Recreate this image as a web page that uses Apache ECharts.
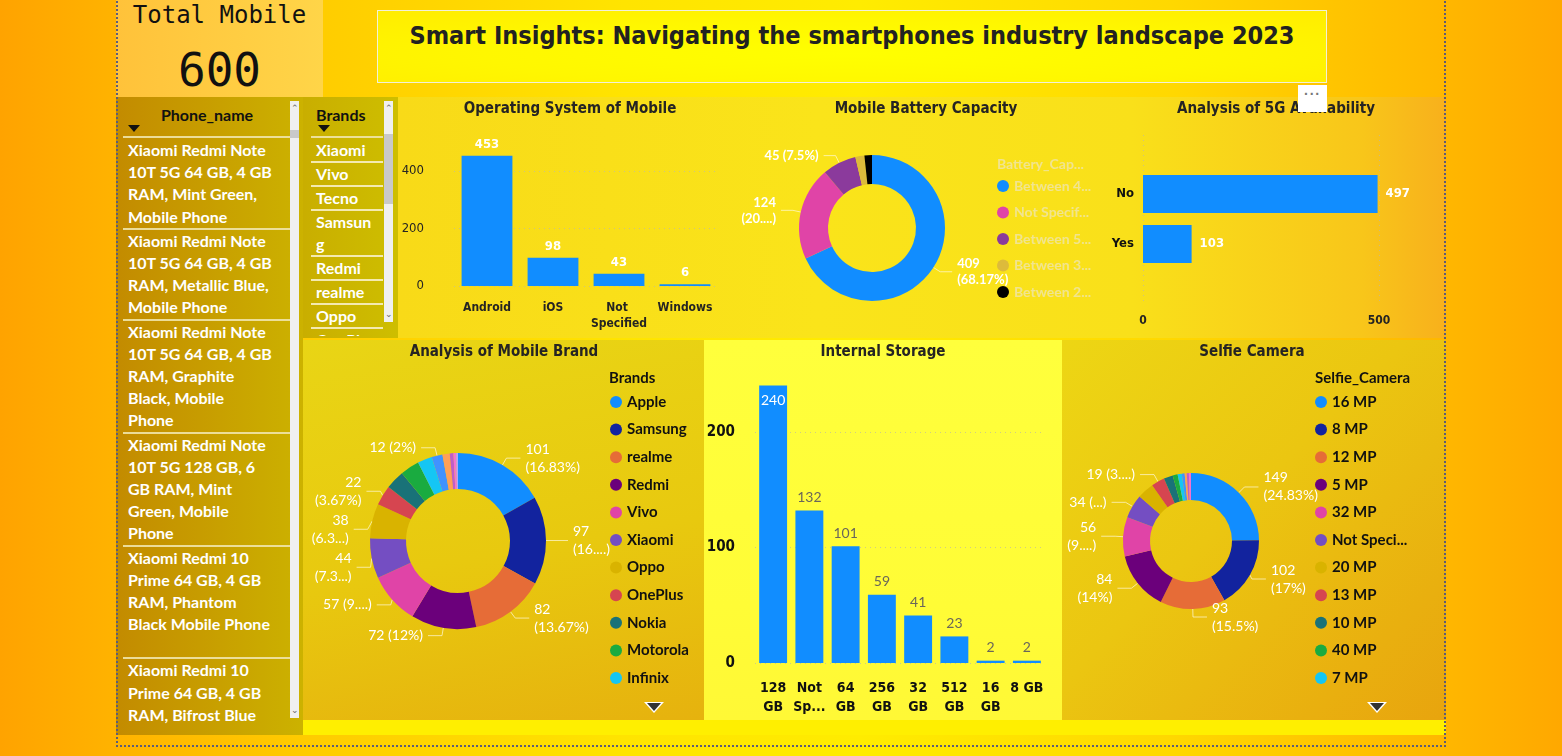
<!DOCTYPE html>
<html>
<head>
<meta charset="utf-8">
<title>Smart Insights</title>
<script src="https://cdn.jsdelivr.net/npm/echarts@6.0.0/dist/echarts.min.js"></script>
<style>
html,body{margin:0;padding:0;}
body{width:1562px;height:756px;overflow:hidden;position:relative;
 background:linear-gradient(90deg,#FFA300 0%,#FFB200 7%,#FFCC00 20%,#FFE400 40%,#FFEC00 55%,#FFD800 75%,#FFB800 92%,#FFA800 100%);
 font-family:Lato,'Noto Sans',sans-serif;}
.p{position:absolute;box-sizing:border-box;}
#chart{position:absolute;left:0;top:0;width:1562px;height:756px;z-index:5;}
#card{left:116px;top:0;width:207px;height:97px;background:linear-gradient(90deg,#FFC23A,#FFD548);}
#cardTitle{left:116px;top:1px;width:207px;text-align:center;font:24px/28px 'DejaVu Sans Mono',monospace;color:#111;}
#cardValue{left:116px;top:44px;width:207px;text-align:center;font:46px/52px 'DejaVu Sans Mono',monospace;color:#111;}
#titleBox{left:377px;top:10px;width:950px;height:73px;border:1px solid #F2F0D8;
 background:radial-gradient(ellipse at 50% 60%,#FFFF00 0%,#FFF700 55%,#FFEC00 100%);}
#mainTitle{left:377px;top:20px;width:950px;text-align:center;white-space:nowrap;font:bold 25px/32px 'Liberation Sans Narrow','DejaVu Sans Condensed',sans-serif;color:#222;}
#topPanel{left:398px;top:97px;width:1048px;height:241px;
 background:linear-gradient(90deg,#F8DA18 0%,#FAE41A 40%,#F9E01A 70%,#F8C61A 92%,#F8B01C 100%);}
#brandPanel{left:303px;top:340px;width:401px;height:380px;
 background:linear-gradient(170deg,#E9D515 0%,#E8C90F 55%,#E6B20E 100%);}
#storagePanel{left:704px;top:340px;width:358px;height:380px;
 background:linear-gradient(180deg,#FFFF3C 0%,#FFFC36 70%,#FFF836 100%);}
#selfiePanel{left:1062px;top:340px;width:384px;height:380px;
 background:linear-gradient(135deg,#EDD614 0%,#EBC611 45%,#E8A40E 100%);}
#strip{left:303px;top:720px;width:1143px;height:15px;background:#FFEF00;}
#border{left:116px;top:-4px;width:1330px;height:751px;border:2px dotted #5C5C78;z-index:8;}
#dots{left:1298px;top:85px;width:29px;height:27px;background:#fff;z-index:9;color:#777;
 font:bold 14px/18px sans-serif;text-align:center;letter-spacing:1px;}
.slicer{position:absolute;}
#phone{left:116px;top:97px;width:187px;height:638px;background:linear-gradient(90deg,#C38B00 0%,#C79C00 45%,#CCB200 100%);}
#brands{left:303px;top:97px;width:95px;height:241px;background:linear-gradient(90deg,#C9AE00,#CEBE00);}
.hdr{position:absolute;font:bold 16px/22px Lato,sans-serif;color:#111;}
.caret{position:absolute;width:0;height:0;border-left:6px solid transparent;border-right:6px solid transparent;border-top:7px solid #111;}
.hline{position:absolute;height:2px;background:rgba(240,228,170,0.9);}
.list{position:absolute;overflow:hidden;}
.pitem{padding:0 0 0 5px;white-space:pre-line;font:bold 16px/22.2px Lato,sans-serif;color:#fff;border-bottom:2px solid rgba(240,228,170,0.9);}
.bitem{padding:0 5px 0 5px;width:62px;word-break:break-all;font:bold 16px/22px Lato,sans-serif;color:#fff;border-bottom:2px solid rgba(245,236,185,0.95);}
.scroll{position:absolute;background:#F0F0F0;}
.thumb{position:absolute;left:0;width:100%;background:#C9C9C9;}
.arr{position:absolute;left:0;width:100%;text-align:center;font:9px/9px sans-serif;color:#666;}
.tri{position:absolute;width:0;height:0;border-left:10px solid transparent;border-right:10px solid transparent;border-top:11px solid #fff;z-index:9;}
.tri:after{content:'';position:absolute;left:-7px;top:-10px;border-left:7px solid transparent;border-right:7px solid transparent;border-top:8px solid #333;}
</style>
</head>
<body>
<div class="p" id="card"></div>
<div class="p" id="cardTitle"></div>
<div class="p" id="cardValue"></div>
<div class="p" id="titleBox"></div>
<div class="p" id="mainTitle"></div>
<div class="p" id="topPanel"></div>
<div class="p" id="brandPanel"></div>
<div class="p" id="storagePanel"></div>
<div class="p" id="selfiePanel"></div>
<div class="p" id="strip"></div>

<div class="slicer" id="phone">
  <div class="hdr" id="phoneHdr" style="left:0;top:7px;width:182px;text-align:center;"></div>
  <div class="caret" style="left:12px;top:28px;"></div>
  <div class="hline" style="left:7px;top:39px;width:167px;"></div>
  <div class="list" id="phoneList" style="left:7px;top:42px;width:167px;height:592px;"></div>
  <div class="scroll" style="left:174px;top:4px;width:9px;height:617px;">
    <div class="arr" style="top:3px;">&#8963;</div>
    <div class="thumb" style="top:29px;height:8px;"></div>
    <div class="arr" style="top:605px;">&#8964;</div>
  </div>
</div>
<div class="slicer" id="brands">
  <div class="hdr" id="brandsHdr" style="left:13px;top:7px;"></div>
  <div class="caret" style="left:15px;top:28px;"></div>
  <div class="hline" style="left:8px;top:39px;width:72px;"></div>
  <div class="list" id="brandList" style="left:8px;top:42px;width:73px;height:197px;"></div>
  <div class="scroll" style="left:81px;top:4px;width:9px;height:221px;">
    <div class="arr" style="top:3px;">&#8963;</div>
    <div class="thumb" style="top:33px;height:70px;"></div>
    <div class="arr" style="top:209px;">&#8964;</div>
  </div>
</div>

<div class="p" id="dots">&middot;&middot;&middot;</div>
<div class="tri" style="left:644px;top:702px;"></div>
<div class="tri" style="left:1367px;top:702px;"></div>
<div class="p" id="border"></div>
<div id="chart"></div>

<script>
// ---------------- data ----------------
const osCategories = ['Android', 'iOS', 'Not Specified', 'Windows'];
const osValues = [453, 98, 43, 6];

const fiveGCategories = ['No', 'Yes'];
const fiveGValues = [497, 103];

const storageCategories = ['128 GB', 'Not Specified', '64 GB', '256 GB', '32 GB', '512 GB', '16 GB', '8 GB'];
const storageValues = [240, 132, 101, 59, 41, 23, 2, 2];
const storageTickLabels = ['128\nGB', 'Not\nSp...', '64\nGB', '256\nGB', '32\nGB', '512\nGB', '16\nGB', '8 GB'];

const batteryNames = ['Between 4000-5000 mAh', 'Not Specified', 'Between 5000-6000 mAh', 'Between 3000-4000 mAh', 'Between 2000-3000 mAh'];
const batteryValues = [409, 124, 45, 12, 10];
const batteryLabels = ['409\n(68.17%)', '124\n(20....)', '45 (7.5%)', '', ''];

const brandNames = ['Apple', 'Samsung', 'realme', 'Redmi', 'Vivo', 'Xiaomi', 'Oppo', 'OnePlus', 'Nokia', 'Motorola', 'Infinix', 'Tecno', 'POCO', 'Google', 'Nothing', 'Lava'];
const brandValues = [101, 97, 82, 72, 57, 44, 38, 22, 21, 21, 16, 12, 8, 4, 3, 2];
const brandLabels = ['101\n(16.83%)', '97\n(16....)', '82\n(13.67%)', '72 (12%)', '57 (9....)', '44\n(7.3...)', '38\n(6.3...)', '22\n(3.67%)', '', '', '', '12 (2%)', '', '', '', ''];

const selfieNames = ['16 MP', '8 MP', '12 MP', '5 MP', '32 MP', 'Not Specified', '20 MP', '13 MP', '10 MP', '40 MP', '7 MP', '2 MP', '50 MP', '60 MP', '25 MP'];
const selfieValues = [149, 102, 93, 84, 56, 34, 24, 19, 13, 7, 6, 4, 3, 3, 3];
const selfieLabels = ['149\n(24.83%)', '102\n(17%)', '93\n(15.5%)', '84\n(14%)', '56\n(9....)', '34 (...)', '', '19 (3....)', '', '', '', '', '', '', ''];

const phoneNames = [
  'Xiaomi Redmi Note\n10T 5G 64 GB, 4 GB\nRAM, Mint Green,\nMobile Phone',
  'Xiaomi Redmi Note\n10T 5G 64 GB, 4 GB\nRAM, Metallic Blue,\nMobile Phone',
  'Xiaomi Redmi Note\n10T 5G 64 GB, 4 GB\nRAM, Graphite\nBlack, Mobile\nPhone',
  'Xiaomi Redmi Note\n10T 5G 128 GB, 6\nGB RAM, Mint\nGreen, Mobile\nPhone',
  'Xiaomi Redmi 10\nPrime 64 GB, 4 GB\nRAM, Phantom\nBlack Mobile Phone',
  'Xiaomi Redmi 10\nPrime 64 GB, 4 GB\nRAM, Bifrost Blue\nMobile Phone'
];
const slicerBrands = ['Xiaomi', 'Vivo', 'Tecno', 'Samsung', 'Redmi', 'realme', 'Oppo', 'OnePlus'];

// ---------------- styles ----------------
const palette = ['#118DFF', '#12239E', '#E66C37', '#6B007B', '#E044A7', '#744EC2', '#D9B300', '#D64550', '#197278', '#1AAB40', '#15C6F4', '#4092FF', '#FFA058', '#BE5DC9', '#F472D0', '#B5A1FF'];
const batteryColors = ['#118DFF', '#E044A7', '#8B3A9C', '#DDBB3B', '#000000'];
const FONT_UI = "Lato, 'Noto Sans', sans-serif";
const FONT_DIN = "'Liberation Sans Narrow', 'DejaVu Sans Condensed', sans-serif";
const DARK = '#252423';
const gridDots = { color: 'rgba(190,185,160,0.75)', type: [1, 4], width: 1 };

// ---------------- HTML texts ----------------
const total = osValues.reduce((a, b) => a + b, 0);
document.getElementById('cardTitle').textContent = 'Total Mobile';
document.getElementById('cardValue').textContent = String(total);
document.getElementById('mainTitle').textContent = 'Smart Insights: Navigating the smartphones industry landscape 2023';
document.getElementById('phoneHdr').textContent = 'Phone_name';
document.getElementById('brandsHdr').textContent = 'Brands';
const pl = document.getElementById('phoneList');
phoneNames.forEach((n, i) => {
  const d = document.createElement('div');
  d.className = 'pitem';
  d.textContent = n;
  if (i === 4) d.style.paddingBottom = '22px';
  pl.appendChild(d);
});
const bl = document.getElementById('brandList');
slicerBrands.forEach(n => {
  const d = document.createElement('div');
  d.className = 'bitem';
  d.textContent = n;
  bl.appendChild(d);
});

// ---------------- chart ----------------
function pieData(names, values, labels, colors) {
  return names.map((n, i) => ({
    name: n,
    value: values[i],
    itemStyle: { color: colors[i % colors.length] },
    label: { show: labels[i] !== '' },
    labelLine: { show: labels[i] !== '' }
  }));
}
function legendData(names, colors, count) {
  return names.slice(0, count).map((n, i) => ({ name: n, itemStyle: { color: colors[i] } }));
}
function titleText(text, x, y, opts) {
  return {
    type: 'text', x: x, y: y, z: 100,
    style: Object.assign({
      text: text, fill: DARK, fontSize: 15, fontWeight: 'bold', fontFamily: FONT_DIN,
      align: 'center', verticalAlign: 'middle'
    }, opts || {})
  };
}

const chart = echarts.init(document.getElementById('chart'), null, { renderer: 'canvas' });
const option = {
  animation: false,
  backgroundColor: 'transparent',
  textStyle: { fontFamily: FONT_UI },
  grid: [
    { left: 454, top: 148, width: 264, height: 138, outerBoundsMode: 'none' },
    { left: 1143, top: 169, width: 236, height: 100, outerBoundsMode: 'none' },
    { left: 1143, top: 135, width: 236, height: 170, outerBoundsMode: 'none' },
    { left: 755, top: 374, width: 290, height: 289, outerBoundsMode: 'none' }
  ],
  xAxis: [
    { type: 'category', gridIndex: 0, data: osCategories,
      axisLine: { show: false }, axisTick: { show: false },
      axisLabel: { interval: 0, margin: 14, color: DARK, fontSize: 12, fontWeight: 'bold', fontFamily: FONT_DIN,
        width: 62, overflow: 'break', lineHeight: 16 } },
    { type: 'value', gridIndex: 1, min: 0, max: 500, show: false },
    { type: 'value', gridIndex: 2, min: 0, max: 500, interval: 500,
      axisLine: { show: false }, axisTick: { show: false },
      splitLine: { show: true, lineStyle: gridDots },
      axisLabel: { margin: 10, color: DARK, fontSize: 12, fontFamily: FONT_DIN, fontWeight: 'bold' } },
    { type: 'category', gridIndex: 3, data: storageCategories,
      axisLine: { show: false }, axisTick: { show: false },
      axisLabel: { interval: 0, margin: 16, color: '#111', fontSize: 14, fontWeight: 'bold', fontFamily: FONT_DIN, lineHeight: 19,
        formatter: (v, i) => storageTickLabels[i] } }
  ],
  yAxis: [
    { type: 'value', gridIndex: 0, min: 0, max: 480, interval: 200,
      axisLine: { show: false }, axisTick: { show: false },
      splitLine: { show: true, showMaxLine: false, lineStyle: gridDots },
      axisLabel: { margin: 30, color: DARK, fontSize: 13, fontFamily: FONT_DIN,
        formatter: v => (v % 200 === 0 ? String(v) : '') } },
    { type: 'category', gridIndex: 1, data: fiveGCategories, inverse: true,
      axisLine: { show: false }, axisTick: { show: false },
      axisLabel: { margin: 9, color: '#111', fontSize: 13, fontWeight: 'bold', fontFamily: FONT_DIN } },
    { type: 'value', gridIndex: 2, min: 0, max: 1, show: false },
    { type: 'value', gridIndex: 3, min: 0, max: 250, interval: 100,
      axisLine: { show: false }, axisTick: { show: false },
      splitLine: { show: true, showMaxLine: false, lineStyle: gridDots },
      axisLabel: { margin: 20, color: '#111', fontSize: 15, fontWeight: 'bold', fontFamily: FONT_DIN,
        formatter: v => (v % 100 === 0 ? String(v) : '') } }
  ],
  legend: [
    { orient: 'vertical', left: 992, top: 173, icon: 'circle', itemWidth: 12, itemHeight: 12, itemGap: 10.5,
      selectedMode: false, data: legendData(batteryNames, batteryColors, 5),
      textStyle: { color: '#F1E48F', fontSize: 14, fontWeight: 'bold', fontFamily: FONT_UI, lineHeight: 16,
        width: 82, overflow: 'truncate' } },
    { orient: 'vertical', left: 605, top: 389, icon: 'circle', itemWidth: 12, itemHeight: 12, itemGap: 11.6,
      selectedMode: false, data: legendData(brandNames, palette, 11),
      textStyle: { color: '#111', fontSize: 15, fontWeight: 'bold', fontFamily: FONT_UI, lineHeight: 16 } },
    { orient: 'vertical', left: 1310, top: 389, icon: 'circle', itemWidth: 12, itemHeight: 12, itemGap: 11.6,
      selectedMode: false, data: legendData(selfieNames, palette, 11),
      textStyle: { color: '#111', fontSize: 15, fontWeight: 'bold', fontFamily: FONT_UI, lineHeight: 16,
        width: 80, overflow: 'truncate' } }
  ],
  series: [
    { type: 'bar', xAxisIndex: 0, yAxisIndex: 0, data: osValues, barWidth: '77%', silent: true,
      itemStyle: { color: '#118DFF' },
      label: { show: true, position: 'top', distance: 5, color: '#fff', fontSize: 13, fontWeight: 'bold', fontFamily: FONT_DIN } },
    { type: 'bar', xAxisIndex: 1, yAxisIndex: 1, data: fiveGValues, barWidth: '76%', silent: true,
      itemStyle: { color: '#118DFF' },
      label: { show: true, position: 'right', distance: 8, color: '#fff', fontSize: 13, fontWeight: 'bold', fontFamily: FONT_DIN } },
    { type: 'bar', xAxisIndex: 3, yAxisIndex: 3, barWidth: '77%', silent: true,
      data: storageValues.map((v, i) => i === 0
        ? { value: v, label: { position: 'insideTop', color: '#fff', distance: 8 } }
        : v),
      itemStyle: { color: '#118DFF' },
      label: { show: true, position: 'top', distance: 6, color: '#6A665A', fontSize: 14, fontFamily: FONT_UI } },
    { type: 'pie', center: [872, 228], radius: [44, 73], startAngle: 90, silent: true,
      data: pieData(batteryNames, batteryValues, batteryLabels, batteryColors),
      label: { position: 'outside', formatter: p => batteryLabels[p.dataIndex], color: '#fff', fontSize: 13,
        fontWeight: 'bold', fontFamily: FONT_UI, lineHeight: 16 },
      labelLine: { length: 8, length2: 12, lineStyle: { color: 'rgba(255,250,220,0.7)', width: 1 } } },
    { type: 'pie', center: [458, 541], radius: [52, 88], startAngle: 90, silent: true,
      data: pieData(brandNames, brandValues, brandLabels, palette),
      label: { position: 'outside', formatter: p => brandLabels[p.dataIndex], color: '#fff', fontSize: 14,
        fontFamily: FONT_UI, lineHeight: 18 },
      labelLine: { length: 8, length2: 14, lineStyle: { color: 'rgba(255,250,220,0.7)', width: 1 } } },
    { type: 'pie', center: [1191, 541], radius: [41, 68], startAngle: 90, silent: true,
      data: pieData(selfieNames, selfieValues, selfieLabels, palette),
      label: { position: 'outside', formatter: p => selfieLabels[p.dataIndex], color: '#fff', fontSize: 14,
        fontFamily: FONT_UI, lineHeight: 18 },
      labelLine: { length: 8, length2: 14, lineStyle: { color: 'rgba(255,250,220,0.7)', width: 1 } } }
  ],
  graphic: [
    titleText('Operating System of Mobile', 570, 109),
    titleText('Mobile Battery Capacity', 926, 109),
    titleText('Analysis of 5G Availability', 1276, 109),
    titleText('Analysis of Mobile Brand', 504, 352),
    titleText('Internal Storage', 883, 352),
    titleText('Selfie Camera', 1252, 352),
    titleText('Battery_Cap...', 997, 164, { align: 'left', fill: '#F1E48F', fontSize: 14, fontFamily: FONT_UI }),
    titleText('Brands', 609, 378, { align: 'left', fill: '#111', fontSize: 15, fontFamily: FONT_UI }),
    titleText('Selfie_Camera', 1315, 378, { align: 'left', fill: '#111', fontSize: 15, fontFamily: FONT_UI })
  ]
};
chart.setOption(option);
</script>
</body>
</html>
